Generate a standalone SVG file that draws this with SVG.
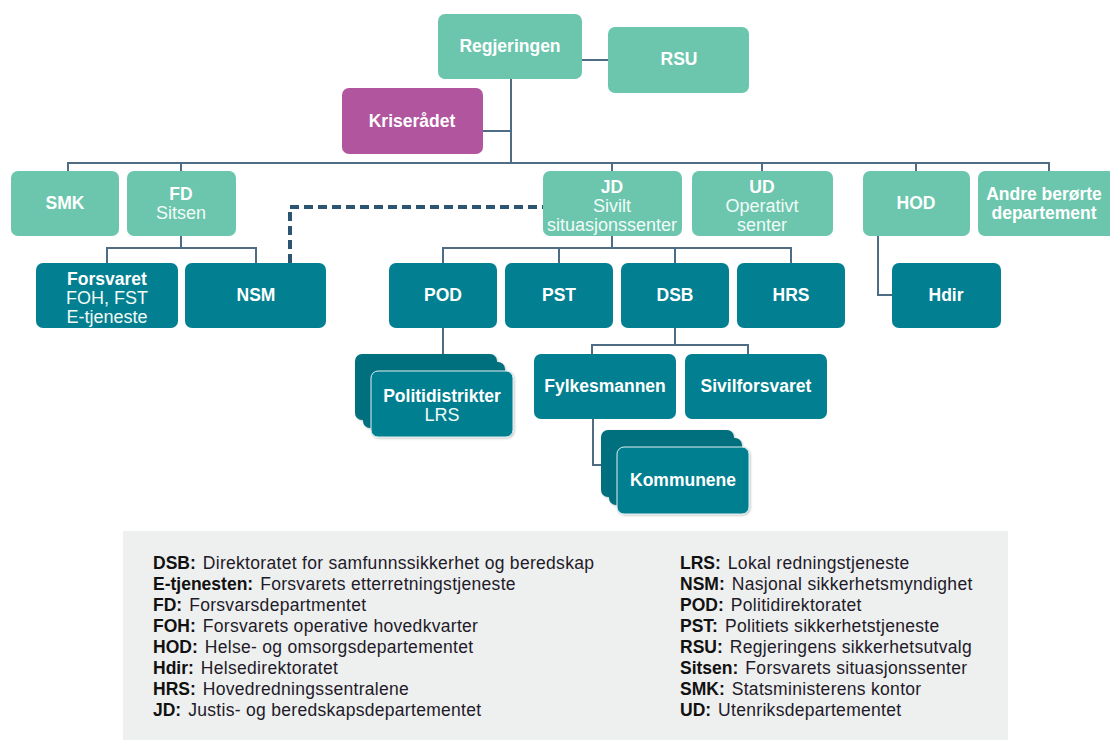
<svg xmlns="http://www.w3.org/2000/svg" width="1110" height="740" viewBox="0 0 1110 740">
<defs>
<style>
.g{fill:#6bc6ad}
.t{fill:#027f90}
.tb{fill:#01707e}
.p{fill:#b0559e}
.st{fill:#027f90;stroke:#dfeff1;stroke-width:1}
text{font-family:"Liberation Sans",Arial,sans-serif;fill:#ffffff;text-anchor:middle;font-size:18px}
.b{font-weight:bold;font-size:17.5px}
.r{fill:#f2fbf8}
.c{fill:none;stroke:#4e6d84;stroke-width:2}
.d{fill:none;stroke:#2c5572;stroke-width:4;stroke-dasharray:9,5}
.lg{font-size:17.5px;fill:#221a28;text-anchor:start;letter-spacing:0.3px}
.lg .k{font-weight:bold;fill:#111;letter-spacing:0}
</style>
<filter id="sh" x="-10%" y="-10%" width="130%" height="130%">
<feDropShadow dx="1" dy="1" stdDeviation="1.2" flood-color="#000" flood-opacity="0.25"/>
</filter>
</defs>
<rect width="1110" height="740" fill="#ffffff"/>

<g id="connectors">
<path class="c" d="M511 79V163M483 131H511M582 60H608"/>
<path class="c" d="M68 171V163H1049V171M181 163V171M612 163V171M762 163V171M916 163V171"/>
<path class="c" d="M181 236V248M107 263V248H256V263"/>
<path class="c" d="M612 236V248M443 263V248H791V263M559 248V263M675 248V263"/>
<path class="c" d="M878 236V295H892"/>
<path class="c" d="M443 328V355"/>
<path class="c" d="M675 328V345M592 354V345H748V354"/>
<path class="c" d="M593 419V465H603"/>
<path class="d" d="M290 263V207H543"/>
</g>

<g id="regjeringen"><rect class="g" x="438" y="14" width="144" height="65" rx="7"/><text class="b" x="510" y="52">Regjeringen</text></g>
<g id="rsu"><rect class="g" x="608" y="27" width="141" height="66" rx="7"/><text class="b" x="679" y="65">RSU</text></g>
<g id="kriseradet"><rect class="p" x="342" y="88" width="141" height="66" rx="7"/><text class="b" x="412" y="127">Kriserådet</text></g>

<g id="smk"><rect class="g" x="11" y="171" width="108" height="65" rx="7"/><text class="b" x="65" y="209">SMK</text></g>
<g id="fd"><rect class="g" x="127" y="171" width="109" height="65" rx="7"/><text class="b" x="181" y="200">FD</text><text class="r" x="181" y="219">Sitsen</text></g>
<g id="jd"><rect class="g" x="543" y="171" width="139" height="65" rx="7"/><text class="b" x="612" y="193">JD</text><text class="r" x="612" y="212">Sivilt</text><text class="r" x="612" y="231">situasjonssenter</text></g>
<g id="ud"><rect class="g" x="692" y="171" width="141" height="65" rx="7"/><text class="b" x="762" y="193">UD</text><text class="r" x="762" y="212">Operativt</text><text class="r" x="762" y="231">senter</text></g>
<g id="hod"><rect class="g" x="863" y="171" width="107" height="65" rx="7"/><text class="b" x="916" y="209">HOD</text></g>
<g id="andre"><rect class="g" x="978" y="171" width="140" height="65" rx="7"/><text class="b" x="1044" y="200">Andre berørte</text><text class="b" x="1044" y="219">departement</text></g>

<g id="forsvaret"><rect class="t" x="36" y="263" width="142" height="65" rx="7"/><text class="b" x="107" y="285">Forsvaret</text><text class="r" x="107" y="304">FOH, FST</text><text class="r" x="107" y="323">E-tjeneste</text></g>
<g id="nsm"><rect class="t" x="185" y="263" width="141" height="65" rx="7"/><text class="b" x="256" y="301">NSM</text></g>
<g id="pod"><rect class="t" x="389" y="263" width="108" height="65" rx="7"/><text class="b" x="443" y="301">POD</text></g>
<g id="pst"><rect class="t" x="505" y="263" width="108" height="65" rx="7"/><text class="b" x="559" y="301">PST</text></g>
<g id="dsb"><rect class="t" x="621" y="263" width="108" height="65" rx="7"/><text class="b" x="675" y="301">DSB</text></g>
<g id="hrs"><rect class="t" x="737" y="263" width="108" height="65" rx="7"/><text class="b" x="791" y="301">HRS</text></g>
<g id="hdir"><rect class="t" x="892" y="263" width="109" height="65" rx="7"/><text class="b" x="946" y="301">Hdir</text></g>

<g id="politidistrikter">
<rect class="tb" x="355" y="354" width="142" height="66" rx="7" filter="url(#sh)"/>
<rect class="tb" x="363" y="362" width="142" height="66" rx="7" filter="url(#sh)"/>
<rect class="st" x="371" y="371" width="142" height="66" rx="7" filter="url(#sh)"/>
<text class="b" x="442" y="402">Politidistrikter</text><text class="r" x="442" y="421">LRS</text>
</g>
<g id="fylkesmannen"><rect class="t" x="534" y="354" width="142" height="65" rx="7"/><text class="b" x="605" y="392">Fylkesmannen</text></g>
<g id="sivilforsvaret"><rect class="t" x="685" y="354" width="142" height="65" rx="7"/><text class="b" x="756" y="392">Sivilforsvaret</text></g>
<g id="kommunene">
<rect class="tb" x="601" y="430" width="133" height="67" rx="7" filter="url(#sh)"/>
<rect class="tb" x="609" y="438" width="133" height="67" rx="7" filter="url(#sh)"/>
<rect class="st" x="617" y="447" width="132" height="67" rx="7" filter="url(#sh)"/>
<text class="b" x="683" y="486">Kommunene</text>
</g>

<g id="legend">
<rect x="123" y="531" width="885" height="209" fill="#eeefef"/>
<text class="lg" x="153" y="569"><tspan class="k">DSB:</tspan><tspan dx="7">Direktoratet for samfunnssikkerhet og beredskap</tspan></text>
<text class="lg" x="153" y="590"><tspan class="k">E-tjenesten:</tspan><tspan dx="7">Forsvarets etterretningstjeneste</tspan></text>
<text class="lg" x="153" y="611"><tspan class="k">FD:</tspan><tspan dx="7">Forsvarsdepartmentet</tspan></text>
<text class="lg" x="153" y="632"><tspan class="k">FOH:</tspan><tspan dx="7">Forsvarets operative hovedkvarter</tspan></text>
<text class="lg" x="153" y="653"><tspan class="k">HOD:</tspan><tspan dx="7">Helse- og omsorgsdepartementet</tspan></text>
<text class="lg" x="153" y="674"><tspan class="k">Hdir:</tspan><tspan dx="7">Helsedirektoratet</tspan></text>
<text class="lg" x="153" y="695"><tspan class="k">HRS:</tspan><tspan dx="7">Hovedredningssentralene</tspan></text>
<text class="lg" x="153" y="716"><tspan class="k">JD:</tspan><tspan dx="7">Justis- og beredskapsdepartementet</tspan></text>
<text class="lg" x="680" y="569"><tspan class="k">LRS:</tspan><tspan dx="7">Lokal redningstjeneste</tspan></text>
<text class="lg" x="680" y="590"><tspan class="k">NSM:</tspan><tspan dx="7">Nasjonal sikkerhetsmyndighet</tspan></text>
<text class="lg" x="680" y="611"><tspan class="k">POD:</tspan><tspan dx="7">Politidirektoratet</tspan></text>
<text class="lg" x="680" y="632"><tspan class="k">PST:</tspan><tspan dx="7">Politiets sikkerhetstjeneste</tspan></text>
<text class="lg" x="680" y="653"><tspan class="k">RSU:</tspan><tspan dx="7">Regjeringens sikkerhetsutvalg</tspan></text>
<text class="lg" x="680" y="674"><tspan class="k">Sitsen:</tspan><tspan dx="7">Forsvarets situasjonssenter</tspan></text>
<text class="lg" x="680" y="695"><tspan class="k">SMK:</tspan><tspan dx="7">Statsministerens kontor</tspan></text>
<text class="lg" x="680" y="716"><tspan class="k">UD:</tspan><tspan dx="7">Utenriksdepartementet</tspan></text>
</g>
</svg>
